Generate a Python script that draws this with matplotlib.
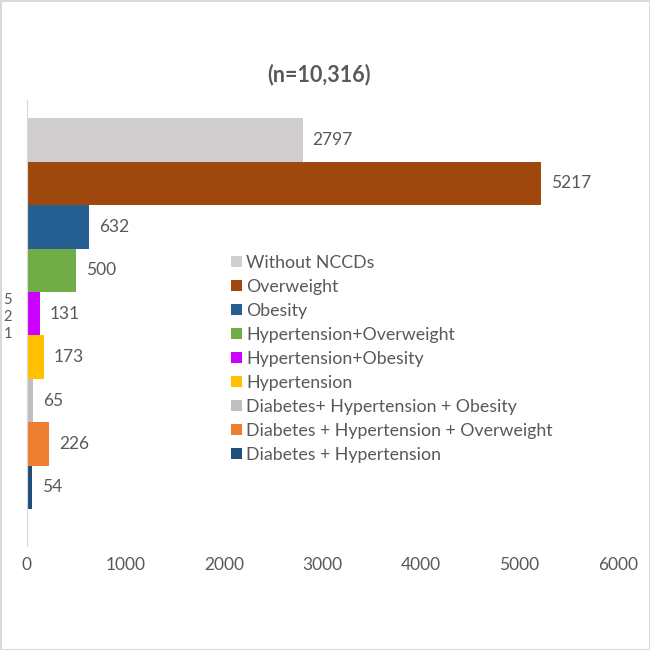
import matplotlib.pyplot as plt
from matplotlib.patches import Patch

plt.rcParams['font.family'] = ['Lato', 'DejaVu Sans']

categories = [
    "Without NCCDs",
    "Overweight",
    "Obesity",
    "Hypertension+Overweight",
    "Hypertension+Obesity",
    "Hypertension",
    "Diabetes+ Hypertension + Obesity",
    "Diabetes + Hypertension + Overweight",
    "Diabetes + Hypertension",
]
counts = [2797, 5217, 632, 500, 131, 173, 65, 226, 54]
colors = ["#d0cece", "#9e480e", "#255e91", "#70ad47", "#cc00ff",
          "#ffc000", "#bfbfbf", "#ed7d31", "#1f4e79"]
group_label = "5\n2\n1"
title = "(n=10,316)"
xticks = [0, 1000, 2000, 3000, 4000, 5000, 6000]

text_color = "#595959"

fig = plt.figure(figsize=(6.5, 6.5), dpi=100, edgecolor="#d9d9d9", linewidth=2)
ax = fig.add_axes([27 / 650, 1 - 546 / 650, (618 - 27) / 650, (546 - 100) / 650])

pos = list(range(len(counts)))
bars = ax.barh(pos, counts, height=1.0, color=colors)
ax.bar_label(bars, labels=[str(c) for c in counts], padding=7,
             fontsize=12.5, color=text_color)

ax.set_xlim(0, 6000)
ax.set_ylim(len(counts) - 0.5 + 0.85, -0.5 - 0.42)
ax.set_xticks(xticks)
ax.set_xticklabels([str(t) for t in xticks], fontsize=12.5, color=text_color)
ax.set_yticks([(len(counts) - 1) / 2])
ax.set_yticklabels([group_label], fontsize=10.5, color=text_color,
                   linespacing=1.3, ha="center")
ax.tick_params(length=0)
ax.tick_params(axis="x", pad=8)
ax.tick_params(axis="y", pad=14)

for s in ["top", "right", "bottom"]:
    ax.spines[s].set_visible(False)
ax.spines["left"].set_color("#d9d9d9")

fig.text(0.49, 1 - 75 / 650, title, ha="center", va="center",
         fontsize=15.5, fontweight="bold", color=text_color)

handles = [Patch(facecolor=c, label=l) for c, l in zip(colors, categories)]
ax.legend(handles=handles, loc="upper left", bbox_to_anchor=(222 / 650, 1 - 246 / 650),
          bbox_transform=fig.transFigure, frameon=False, borderpad=0,
          handlelength=0.6, handleheight=0.6, handletextpad=0.25,
          labelspacing=0.45, fontsize=12.8, labelcolor=text_color)

fig.savefig("out.png", dpi=100)
